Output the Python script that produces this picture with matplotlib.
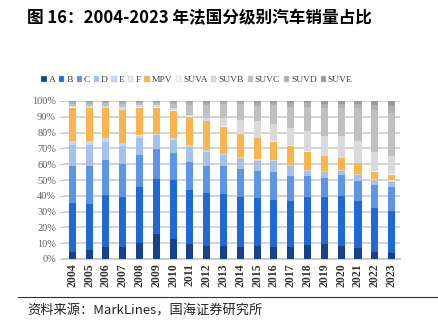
import matplotlib
matplotlib.use("Agg")
import matplotlib.pyplot as plt
import matplotlib.ticker as mtick
import numpy as np

years = [str(y) for y in range(2004, 2024)]
segments = ["A", "B", "C", "D", "E", "F", "MPV", "SUVA", "SUVB", "SUVC", "SUVD", "SUVE"]

# share per segment (%), one list per segment
A = [4.6, 5.7, 7.6, 7.6, 10.3, 15.8, 12.7, 9.5, 8.2, 8.2, 7.8, 8.2, 7.8, 7.4, 8.9, 9.3, 8.2, 6.8, 4.6, 3.8]
B = [31.1, 28.9, 32.9, 31.4, 35.1, 34.8, 37.3, 34.2, 33.4, 32.9, 31.7, 30.2, 29.5, 29.3, 30.1, 30.2, 31.8, 29.9, 27.4, 26.6]
C = [23.3, 24.4, 22.2, 21.1, 20.4, 18.8, 16.9, 17.9, 17.4, 17.8, 17.5, 17.5, 18.0, 16.0, 13.5, 12.0, 13.2, 12.7, 14.8, 15.2]
D = [13.0, 13.0, 11.6, 11.6, 11.0, 9.1, 8.4, 9.5, 8.5, 6.9, 6.7, 6.3, 6.7, 6.2, 3.2, 3.4, 2.8, 3.8, 3.2, 3.4]
E = [2.7, 2.7, 2.1, 1.5, 1.2, 0.6, 1.1, 1.1, 1.5, 0.7, 0.6, 0.6, 0.5, 0.5, 0.6, 0.5, 0.4, 0.4, 0.5, 0.5]
F = [0.3, 0.3, 0.3, 0.3, 0.2, 0.2, 0.2, 0.2, 0.2, 0.2, 0.2, 0.2, 0.2, 0.2, 0.2, 0.2, 0.2, 0.2, 0.2, 0.2]
MPV = [20.8, 20.4, 18.7, 20.8, 17.6, 16.5, 17.1, 17.6, 18.1, 17.1, 14.6, 13.4, 11.6, 12.1, 11.5, 9.6, 7.4, 6.7, 4.6, 3.5]
SUVA = [0.3, 0.3, 0.3, 0.3, 0.3, 0.3, 0.3, 0.2, 0.2, 0.2, 0.2, 0.2, 0.2, 0.2, 0.2, 0.2, 0.2, 0.2, 0.3, 0.4]
SUVB = [1.0, 1.2, 1.3, 1.5, 1.3, 1.2, 1.5, 0.9, 1.8, 5.5, 8.8, 10.7, 10.7, 11.2, 12.8, 12.4, 13.6, 14.0, 12.4, 11.8]
SUVC = [1.2, 1.3, 1.5, 1.9, 1.2, 1.3, 2.5, 6.4, 7.9, 8.4, 9.8, 9.7, 12.3, 13.3, 15.4, 18.0, 18.0, 20.7, 26.3, 27.0]
SUVD = [1.0, 1.0, 0.8, 1.2, 0.8, 0.8, 1.2, 1.6, 1.8, 1.3, 1.3, 1.8, 1.5, 2.2, 2.2, 2.5, 2.5, 2.7, 3.4, 4.6]
SUVE = [0.7, 0.8, 0.7, 0.8, 0.6, 0.6, 0.8, 0.9, 1.0, 0.8, 0.8, 1.2, 1.0, 1.4, 1.4, 1.7, 1.7, 1.9, 2.3, 3.0]

colors = ["#17428a", "#2168d2", "#5b95e3", "#a3c2ef", "#c4d8f5", "#dfe9f9",
          "#fcb44e", "#f4f4f4", "#dadada", "#c0c0c0", "#b0b0b0", "#9a9a9a"]

series = [A, B, C, D, E, F, MPV, SUVA, SUVB, SUVC, SUVD, SUVE]
data = np.array(series, dtype=float)
data = data / data.sum(axis=0)

serif = "Liberation Serif"
cjk = ["Noto Sans CJK SC", "DejaVu Sans"]

fig = plt.figure(figsize=(4.38, 3.28), dpi=100)
ax = fig.add_axes([63 / 438, 1 - 259 / 328, 337 / 438, 158 / 328])

x = np.arange(len(years))
bottom = np.zeros(len(years))
for name, vals, col in zip(segments, data, colors):
    ax.bar(x, vals, 0.42, bottom=bottom, color=col, label=name, zorder=3)
    bottom += vals

ax.set_xlim(-0.55, len(years) - 0.5)
ax.set_ylim(0, 1)
ax.yaxis.set_major_locator(mtick.MultipleLocator(0.1))
ax.yaxis.set_major_formatter(mtick.PercentFormatter(1.0, decimals=0))
ax.grid(axis="y", color="#d0d0d0", lw=1.3, zorder=0)
for s in ["top", "right", "left"]:
    ax.spines[s].set_visible(False)
ax.spines["bottom"].set_color("#c8c8c8")
ax.spines["bottom"].set_linewidth(1.3)
ax.tick_params(axis="y", length=3, color="#c8c8c8", labelsize=7.5, labelcolor="#606060", pad=2)
ax.tick_params(axis="x", length=0, pad=3)
ax.set_xticks(x)
ax.set_xticklabels(years, rotation=90, fontsize=8.5, fontweight="bold", family=serif, color="#333333")
for lab in ax.get_yticklabels():
    lab.set_family(serif)

handles, labels = ax.get_legend_handles_labels()
leg = fig.legend(handles, labels, loc="center", bbox_to_anchor=(197 / 438, 1 - 80 / 328), ncol=12,
                 frameon=False, handlelength=0.55, handleheight=0.55,
                 handletextpad=0.2, columnspacing=0.4, prop={"family": serif, "size": 6.8})
for h in leg.legend_handles:
    h.set_edgecolor("#c8c8c8")
    h.set_linewidth(0.3)
for t in leg.get_texts():
    t.set_color("#444444")

fig.text(27 / 438, 1 - 18 / 328, "图 16：2004-2023 年法国分级别汽车销量占比", family=cjk,
         fontsize=12, fontweight="bold", va="center", ha="left")
fig.add_artist(plt.Line2D([18 / 438, 1], [1 - 297 / 328] * 2, color="#333333", lw=0.8))
fig.text(27 / 438, 1 - 311 / 328, "资料来源：MarkLines，国海证券研究所", family=cjk,
         fontsize=9.5, va="center", ha="left", color="#222222")

fig.savefig("out.png", dpi=100)
